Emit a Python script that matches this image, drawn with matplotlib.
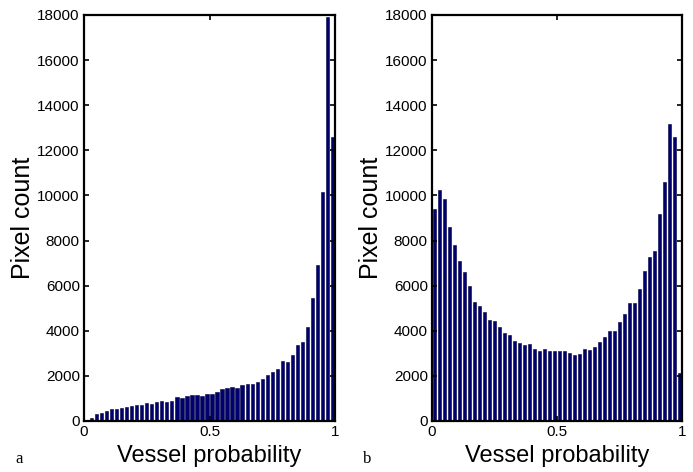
import numpy as np
import matplotlib
matplotlib.use('Agg')
import matplotlib.pyplot as plt

# histogram counts, 50 bins over [0, 1]
counts_a = [50, 150, 300, 370, 460, 520, 550, 590, 640, 680,
            700, 720, 780, 770, 840, 900, 860, 870, 1050, 1020,
            1090, 1150, 1150, 1120, 1200, 1210, 1300, 1400, 1480, 1510,
            1470, 1600, 1640, 1650, 1740, 1850, 2050, 2190, 2300, 2670,
            2630, 2940, 3350, 3500, 4150, 5440, 6900, 10160, 17920, 12600]
counts_b = [9420, 10240, 9840, 8580, 7800, 7100, 6590, 5980, 5260, 5120,
            4820, 4490, 4430, 4170, 3920, 3830, 3545, 3470, 3350, 3400,
            3180, 3100, 3180, 3100, 3100, 3100, 3100, 3030, 2920, 2970,
            3190, 3160, 3290, 3490, 3710, 3980, 4010, 4370, 4750, 5220,
            5210, 5870, 6660, 7280, 7530, 9160, 10600, 13150, 12600, 2140]
panel_tags = ['a', 'b']
yticks = [0, 2000, 4000, 6000, 8000, 10000, 12000, 14000, 16000, 18000]
xticks = [0, 0.5, 1]
xtick_labels = ['0', '0.5', '1']

plt.rcParams['font.family'] = ['Liberation Sans', 'DejaVu Sans']

n_bins = len(counts_a)
centers = (np.arange(n_bins) + 0.5) / n_bins
bar_w = 0.65 / n_bins

fig = plt.figure(figsize=(6.93, 4.72), dpi=100)
axes_pos = [[84 / 693, 51 / 472, 251 / 693, 406 / 472],
            [432 / 693, 51 / 472, 250 / 693, 406 / 472]]

for pos, counts, tag in zip(axes_pos, [counts_a, counts_b], panel_tags):
    ax = fig.add_axes(pos)
    ax.bar(centers, counts, width=bar_w, color='#00006E',
           edgecolor='#000040', linewidth=0.4)
    ax.set_xlim(0, 1)
    ax.set_ylim(0, 18000)
    ax.set_xticks(xticks)
    ax.set_xticklabels(xtick_labels)
    ax.set_yticks(yticks)
    ax.tick_params(direction='in', top=True, right=True, length=3.5,
                   width=1.2, labelsize=11, pad=3)
    for sp in ax.spines.values():
        sp.set_linewidth(1.6)
    ax.set_xlabel('Vessel probability', fontsize=17, labelpad=4)
    ax.set_ylabel('Pixel count', fontsize=18, labelpad=2)
    fig.text(pos[0] - 69 / 693, 9 / 472, tag, fontsize=12,
             family='Liberation Serif', ha='left', va='baseline')

fig.savefig('out.png', dpi=100)
